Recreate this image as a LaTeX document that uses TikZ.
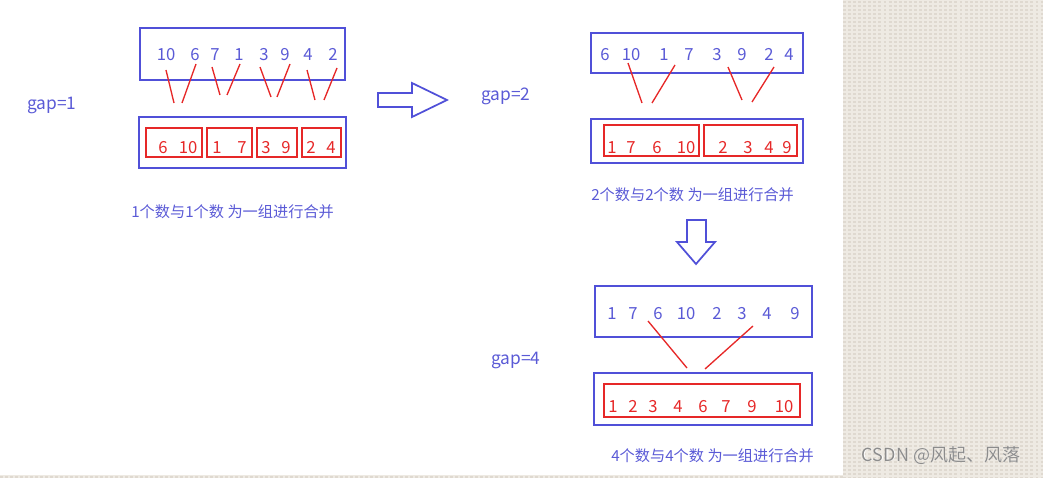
\documentclass[tikz,border=0pt]{standalone}
\usepackage{fontspec}
\setmainfont{Noto Sans CJK SC}
\definecolor{bx}{HTML}{5050D8}
\definecolor{tb}{HTML}{5A5AD6}
\definecolor{rd}{HTML}{E62828}
\definecolor{beige}{HTML}{EEEAE3}
\definecolor{beiged}{HTML}{DFD9D0}
\tikzset{
  bluebox/.style={draw=bx, line width=1.5pt},
  redbox/.style={draw=rd, line width=1.5pt},
  num/.style={text=tb, font=\fontsize{12.5}{14}\selectfont, inner sep=0pt, anchor=base, yshift=-6.5pt},
  rnum/.style={text=rd, font=\fontsize{12.5}{14}\selectfont, inner sep=0pt, anchor=base, yshift=-6.5pt},
  link/.style={draw=rd, line width=1pt},
  gaplab/.style={text=tb, font=\fontsize{13}{15}\selectfont, inner sep=0pt, anchor=west},
  caption/.style={text=tb, font=\fontsize{11.4}{13}\selectfont, inner sep=0pt, anchor=west},
  bigarrow/.style={draw=bx, line width=1.3pt, fill=white, line join=miter},
  texline/.style={draw=beiged, line width=1.2pt, dash pattern=on 2.2pt off 1.6pt},
  wmark/.style={font=\fontsize{13.5}{15}\selectfont, inner sep=0pt}
}
\begin{document}
\begin{tikzpicture}[x=0.75pt, y=-0.75pt]
\useasboundingbox (0,0) rectangle (1043,478);
% background texture panel
\fill[beige] (843,0) rectangle (1043,478);
\foreach \yy in {2,6,...,478} {
  \draw[texline] (843,\yy) -- (1043,\yy);
}
\fill[beige] (0,475) rectangle (843,478);
\foreach \xx in {0,5,...,840} { \fill[beiged] (\xx,476) rectangle (\xx+3,477.5); }
\node[wmark, text=white] at (941.8,455.8) {CSDN @风起、风落};
\node[wmark, text=black!45] (wm) at (941,455) {CSDN @风起、风落};

% ===== gap = 1 =====
\node[gaplab] (g1) at (27,105) {gap=1};
\draw[bluebox] (140,28) rectangle (345,80);
\node[num] (a1) at (166,52) {10};
\node[num] (a2) at (195,52) {6};
\node[num] (a3) at (215,52) {7};
\node[num] (a4) at (239,52) {1};
\node[num] (a5) at (264,52) {3};
\node[num] (a6) at (285,52) {9};
\node[num] (a7) at (308,52) {4};
\node[num] (a8) at (333,52) {2};
\draw[link] (166,70) -- (174,103);
\draw[link] (196,64) -- (182,103);
\draw[link] (212,67) -- (220,95);
\draw[link] (240,64) -- (227,95);
\draw[link] (260,67) -- (271,97);
\draw[link] (290,64) -- (277,97);
\draw[link] (307,70) -- (315,100);
\draw[link] (337,68) -- (324,100);
\draw[bluebox] (139,117) rectangle (346,168);
\draw[redbox] (146,128) rectangle (202,157);
\draw[redbox] (207,128) rectangle (252,157);
\draw[redbox] (257,128) rectangle (297,157);
\draw[redbox] (302,128) rectangle (341,157);
\node[rnum] (b1) at (163,145) {6};
\node[rnum] (b2) at (188,145) {10};
\node[rnum] (b3) at (217,145) {1};
\node[rnum] (b4) at (242,145) {7};
\node[rnum] (b5) at (266,145) {3};
\node[rnum] (b6) at (286,145) {9};
\node[rnum] (b7) at (311,145) {2};
\node[rnum] (b8) at (331,145) {4};
\node[caption] (c1) at (131,212) {1个数与1个数 为一组进行合并};

% right arrow
\draw[bigarrow] (378,93) -- (412,93) -- (412,83) -- (447,100) -- (412,117) -- (412,107) -- (378,107) -- cycle;

% ===== gap = 2 =====
\node[gaplab] (g2) at (481,96) {gap=2};
\draw[bluebox] (591,33) rectangle (803,73);
\node[num] (d1) at (605,52) {6};
\node[num] (d2) at (631,52) {10};
\node[num] (d3) at (664,52) {1};
\node[num] (d4) at (689,52) {7};
\node[num] (d5) at (717,52) {3};
\node[num] (d6) at (742,52) {9};
\node[num] (d7) at (769,52) {2};
\node[num] (d8) at (789,52) {4};
\draw[link] (628,63) -- (642,103);
\draw[link] (675,65) -- (652,103);
\draw[link] (728,67) -- (742,100);
\draw[link] (774,67) -- (752,102);
\draw[bluebox] (591,119) rectangle (803,163);
\draw[redbox] (604,125) rectangle (699,156);
\draw[redbox] (704,125) rectangle (797,156);
\node[rnum] (e1) at (612,145) {1};
\node[rnum] (e2) at (631,145) {7};
\node[rnum] (e3) at (657,145) {6};
\node[rnum] (e4) at (686,145) {10};
\node[rnum] (e5) at (723,145) {2};
\node[rnum] (e6) at (748,145) {3};
\node[rnum] (e7) at (769,145) {4};
\node[rnum] (e8) at (787,145) {9};
\node[caption] (c2) at (591,195) {2个数与2个数 为一组进行合并};

% down arrow
\draw[bigarrow] (687,220) -- (706,220) -- (706,242) -- (715,242) -- (696,264) -- (677,242) -- (687,242) -- cycle;

% ===== gap = 4 =====
\node[gaplab] (g4) at (491,360) {gap=4};
\draw[bluebox] (595,286) rectangle (812,337);
\node[num] (f1) at (612,311) {1};
\node[num] (f2) at (633,311) {7};
\node[num] (f3) at (658,311) {6};
\node[num] (f4) at (686,311) {10};
\node[num] (f5) at (717,311) {2};
\node[num] (f6) at (742,311) {3};
\node[num] (f7) at (767,311) {4};
\node[num] (f8) at (795,311) {9};
\draw[link] (648,321) -- (687,368);
\draw[link] (753,326) -- (705,369);
\draw[bluebox] (594,373) rectangle (812,425);
\draw[redbox] (604,384) rectangle (800,417);
\node[rnum] (h1) at (613,404) {1};
\node[rnum] (h2) at (633,404) {2};
\node[rnum] (h3) at (653,404) {3};
\node[rnum] (h4) at (678,404) {4};
\node[rnum] (h5) at (703,404) {6};
\node[rnum] (h6) at (726,404) {7};
\node[rnum] (h7) at (752,404) {9};
\node[rnum] (h8) at (784,404) {10};
\node[caption] (c4) at (611,456) {4个数与4个数 为一组进行合并};
\end{tikzpicture}
\end{document}
